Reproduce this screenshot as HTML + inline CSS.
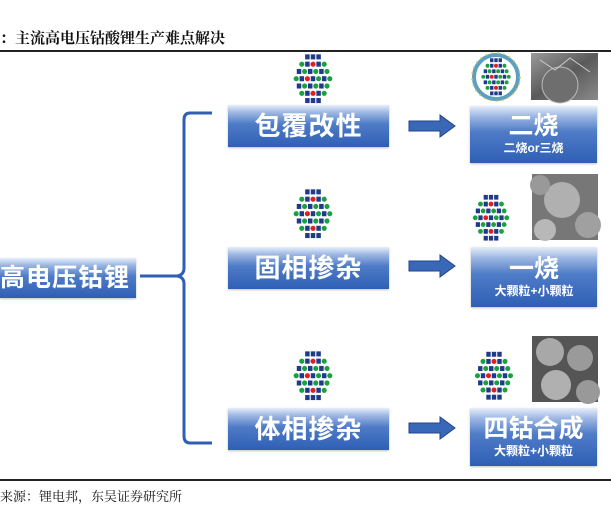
<!DOCTYPE html>
<html><head><meta charset="utf-8">
<style>
html,body{margin:0;padding:0;background:#fff;}
body{width:611px;height:509px;position:relative;overflow:hidden;font-family:"Liberation Sans","Noto Sans CJK SC",sans-serif;}
.t{position:absolute;left:0;top:27px;font-family:"Liberation Serif","Noto Serif CJK SC",serif;font-size:15px;font-weight:bold;color:#111;white-space:nowrap;}
.b{position:absolute;color:#fff;font-weight:bold;text-align:center;
background:linear-gradient(180deg,#e6eefa 0%,#9db7e2 18%,#4f7cc7 45%,#2f5fb5 100%);
box-shadow:0 1px 2px rgba(0,0,0,.25);}
.m{font-size:26px;line-height:42px;letter-spacing:1px;}
.r{display:flex;flex-direction:column;justify-content:center;}
.r .big{font-size:25px;line-height:27px;}
.r .sm{font-size:12px;line-height:16px;}
</style></head><body>
<div class="t">：主流高电压钴酸锂生产难点解决</div>
<div style="position:absolute;left:0;top:50px;width:611px;height:2px;background:#222"></div>
<div style="position:absolute;left:0;top:479px;width:611px;height:2px;background:#222"></div>
<div class="t" style="top:486px;font-size:13px;font-weight:normal">来源：锂电邦，东吴证券研究所</div>

<div class="b m" style="left:0;top:258px;width:136px;height:40px;line-height:40px;text-align:left;font-size:25px">高电压钴锂</div>

<svg style="position:absolute;left:0;top:0" width="611" height="509">
<defs>
<g id="cr">
 <g fill="#1f3a8a">
  <rect x="-7" y="-22" width="4" height="4.5"/><rect x="-2" y="-22" width="4" height="4.5"/><rect x="3" y="-22" width="4" height="4.5"/>
  <rect x="-7" y="-15.5" width="4" height="4.5"/><rect x="3" y="-15.5" width="4" height="4.5"/>
  <rect x="-14.5" y="-9" width="4" height="4.5"/><rect x="-4.5" y="-9" width="4" height="4.5"/><rect x="5.5" y="-9" width="4" height="4.5"/>
  <rect x="-12" y="-2.5" width="4" height="4.5"/><rect x="-2" y="-2.5" width="4" height="4.5"/><rect x="8" y="-2.5" width="4" height="4.5"/>
  <rect x="-14.5" y="4" width="4" height="4.5"/><rect x="-4.5" y="4" width="4" height="4.5"/><rect x="5.5" y="4" width="4" height="4.5"/>
  <rect x="-7" y="10.5" width="4" height="4.5"/><rect x="3" y="10.5" width="4" height="4.5"/>
  <rect x="-7" y="17" width="4" height="4.5"/><rect x="-2" y="17" width="4" height="4.5"/><rect x="3" y="17" width="4" height="4.5"/>
 </g>
 <g fill="#1aa040">
  <circle cx="-10" cy="-13.25" r="2.3"/><circle cx="10" cy="-13.25" r="2.3"/>
  <circle cx="-7.5" cy="-6.75" r="2.3"/><circle cx="2.5" cy="-6.75" r="2.3"/><circle cx="12.5" cy="-6.75" r="2.3"/>
  <circle cx="-15" cy="-0.25" r="2.3"/><circle cx="5" cy="-0.25" r="2.3"/><circle cx="15" cy="-0.25" r="2.3"/>
  <circle cx="-7.5" cy="6.25" r="2.3"/><circle cx="2.5" cy="6.25" r="2.3"/><circle cx="12.5" cy="6.25" r="2.3"/>
  <circle cx="-10" cy="12.75" r="2.3"/><circle cx="10" cy="12.75" r="2.3"/>
 </g>
 <g fill="#e02020">
  <circle cx="0" cy="-13.25" r="2.3"/><circle cx="-5" cy="-0.25" r="2.3"/><circle cx="0" cy="12.75" r="2.3"/>
 </g>
</g>
<linearGradient id="ph" x1="0" y1="0" x2="1" y2="1"><stop offset="0" stop-color="#9a9a9a"/><stop offset=".5" stop-color="#5a5a5a"/><stop offset="1" stop-color="#8a8a8a"/></linearGradient>
</defs>
<path d="M212 113 H190 Q184 113 184 120 V268 Q184 275 177 276 H140 M177 276 Q184 277 184 284 V436 Q184 443 190 443 H212" fill="none" stroke="#2f5fb5" stroke-width="3"/>
<use href="#cr" transform="translate(313 79) scale(1.12)"/>
<use href="#cr" transform="translate(313 214) scale(1.12)"/>
<use href="#cr" transform="translate(313 376) scale(1.12)"/>
<circle cx="496" cy="77" r="22" fill="#fff" stroke="#5aa0c0" stroke-width="4"/>
<circle cx="496" cy="77" r="24" fill="none" stroke="#d4c060" stroke-width="1.5" stroke-dasharray="2 4"/>
<use href="#cr" transform="translate(496 77) scale(0.85)"/>
<use href="#cr" transform="translate(491 218) scale(1.05)"/>
<use href="#cr" transform="translate(494 376) scale(1.1)"/>
<rect x="531" y="53" width="67" height="47" fill="url(#ph)"/>
<circle cx="560" cy="85" r="18" fill="#6e6e6e" stroke="#bbb"/>
<path d="M540 60 L555 70 L570 58 L590 72" stroke="#ccc" fill="none"/>
<rect x="532" y="174" width="66" height="66" fill="#777"/>
<circle cx="562" cy="200" r="18" fill="#b0b0b0"/><circle cx="588" cy="225" r="13" fill="#a0a0a0"/><circle cx="545" cy="230" r="11" fill="#b8b8b8"/><circle cx="540" cy="185" r="10" fill="#999"/>
<rect x="532" y="336" width="66" height="66" fill="#555"/>
<circle cx="550" cy="352" r="14" fill="#a8a8a8"/><circle cx="580" cy="358" r="13" fill="#9a9a9a"/><circle cx="556" cy="385" r="15" fill="#b0b0b0"/><circle cx="588" cy="392" r="12" fill="#999"/>
<g fill="#3a68b8" stroke="#24468a" stroke-width="1">
<path d="M409 121 H440 V115 L455 126 L440 137 V131 H409 Z"/>
<path d="M409 261 H440 V255 L455 266 L440 277 V271 H409 Z"/>
<path d="M409 423 H440 V417 L455 428 L440 439 V433 H409 Z"/>
</g>
</svg>

<div class="b m" style="left:228px;top:105px;width:161px;height:42px">包覆改性</div>
<div class="b m" style="left:228px;top:247px;width:161px;height:42px">固相掺杂</div>
<div class="b m" style="left:228px;top:408px;width:161px;height:42px">体相掺杂</div>

<div class="b r" style="left:470px;top:106px;width:127px;height:57px"><div class="big">二烧</div><div class="sm">二烧or三烧</div></div>
<div class="b r" style="left:471px;top:247px;width:126px;height:60px"><div class="big">一烧</div><div class="sm">大颗粒+小颗粒</div></div>
<div class="b r" style="left:470px;top:408px;width:127px;height:58px"><div class="big">四钴合成</div><div class="sm">大颗粒+小颗粒</div></div>
</body></html>
